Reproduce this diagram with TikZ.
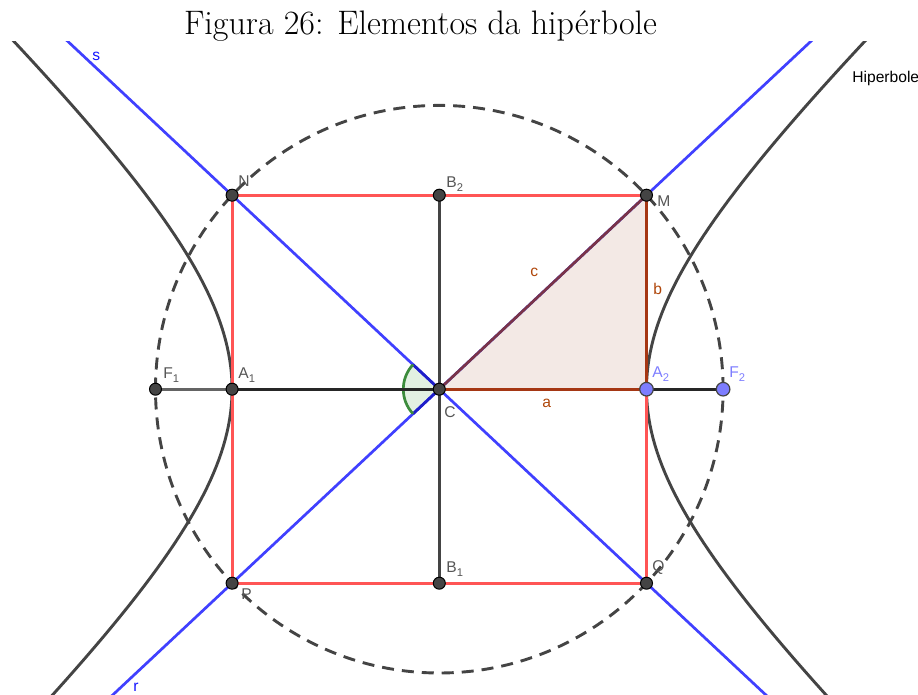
\documentclass[tikz,border=0pt]{standalone}
\usepackage{fontspec}
\newfontfamily\ggfont{Liberation Sans}
\usetikzlibrary{calc}
\definecolor{hypc}{RGB}{68,68,68}
\definecolor{asy}{RGB}{64,64,255}
\definecolor{asyd}{RGB}{30,30,200}
\definecolor{rectc}{RGB}{255,85,85}
\definecolor{trif}{RGB}{243,233,229}
\definecolor{csd}{RGB}{122,52,72}
\definecolor{abs}{RGB}{165,55,20}
\definecolor{abl}{RGB}{175,70,10}
\definecolor{angc}{RGB}{60,140,60}
\definecolor{angf}{RGB}{226,240,226}
\definecolor{ptd}{RGB}{68,68,68}
\definecolor{ptb}{RGB}{125,125,255}
\definecolor{lblg}{RGB}{85,85,85}
\definecolor{lblb}{RGB}{125,125,255}
\definecolor{lbls}{RGB}{20,20,255}
\definecolor{axg}{RGB}{100,100,100}
\tikzset{
 hyp/.style={hypc, line width=1.45pt},
 asym/.style={asy, line width=1.35pt},
 rectl/.style={rectc, line width=1.45pt},
 circd/.style={hypc, line width=1.45pt, dash pattern=on 6pt off 4pt},
 dotd/.style={circle, fill=ptd, draw=black, line width=0.5pt, minimum size=6pt, inner sep=0pt},
 dotb/.style={circle, fill=ptb, draw=hypc, line width=0.6pt, minimum size=6.8pt, inner sep=0pt},
 lbl/.style={anchor=base west, inner sep=0pt, font=\ggfont\fontsize{7.8}{8.5}\selectfont, text=lblg},
}
\newcommand{\sbs}[1]{\raisebox{-1.9pt}{\fontsize{5.6}{6}\selectfont #1}}
\begin{document}
\begin{tikzpicture}[x=0.5pt,y=-0.5pt]
\useasboundingbox (0,0) rectangle (918,695);
\node[anchor=base, inner sep=0pt, font=\fontsize{17}{20}\selectfont] (title) at (420.5,35) {Figura 26: Elementos da hipérbole};
% key points
\coordinate (C) at (439.3,389.2);
\coordinate (A1) at (232.1,389.2);
\coordinate (A2) at (646.5,389.2);
\coordinate (B2) at (439.3,195.2);
\coordinate (B1) at (439.3,583.2);
\coordinate (N) at (232.1,195.2);
\coordinate (M) at (646.5,195.2);
\coordinate (P) at (232.1,583.2);
\coordinate (Q) at (646.5,583.2);
\coordinate (F1) at (155.5,389.2);
\coordinate (F2) at (723.1,389.2);
\coordinate (s1) at ($(C)!3!(N)$);
\coordinate (s2) at ($(C)!3!(Q)$);
\coordinate (r1) at ($(C)!3!(P)$);
\coordinate (r2) at ($(C)!3!(M)$);
\begin{scope}
\clip (0,42) rectangle (918,695);
% triangle fill
\fill[trif] (C) -- (A2) -- (M) -- cycle;
% angle sector
\fill[angf] (C) -- +(136.88:18pt) arc[start angle=136.88, end angle=223.12, radius=18pt] -- cycle;
% circle
\draw[circd] (C) circle[radius=141.9pt];
% hyperbola
\draw[hyp] plot[domain=-1.5:1.5, samples=90, variable=\t] ({439.3+207.2*cosh(\t)}, {389.2+194*sinh(\t)});
\draw[hyp] plot[domain=-1.5:1.5, samples=90, variable=\t] ({439.3-207.2*cosh(\t)}, {389.2+194*sinh(\t)});
% rectangle
\draw[rectl] (N) -- (M) -- (Q) -- (P) -- cycle;
% asymptotes
\draw[asym] (s1) -- (s2);
\draw[asym] (r1) -- (r2);
\draw[asyd, line width=1.35pt] ($(C)!18pt!(N)$) -- (C) -- ($(C)!18pt!(P)$);
\draw[angc, line width=1.35pt] ($(C)+(136.88:18pt)$) arc[start angle=136.88, end angle=223.12, radius=18pt];
% axes
\draw[hypc, line width=1.45pt] (B1) -- (B2);
\draw[axg, line width=1.35pt] (F1) -- (A1);
\draw[black!85, line width=1.35pt] (A1) -- (C);
\draw[black!85, line width=1.35pt] (A2) -- (F2);
% triangle sides
\draw[abs, line width=1.35pt] (C) -- (A2);
\draw[abs, line width=1.35pt] (A2) -- (M);
\draw[csd, line width=1.35pt] (C) -- (M);
% points
\node[dotd] (pN) at (N) {};
\node[dotd] (pM) at (M) {};
\node[dotd] (pP) at (P) {};
\node[dotd] (pQ) at (Q) {};
\node[dotd] (pB1) at (B1) {};
\node[dotd] (pB2) at (B2) {};
\node[dotd] (pA1) at (A1) {};
\node[dotd] (pF1) at (F1) {};
\node[dotd] (pC) at (C) {};
\node[dotb] (pA2) at (A2) {};
\node[dotb] (pF2) at (F2) {};
% labels
\node[lbl, text=lbls] (ls) at (92,61) {s};
\node[lbl, text=lbls] (lr) at (133,692) {r};
\node[lbl] (lN) at (238,187) {N};
\node[lbl] (lB2) at (446,188) {B\sbs{2}};
\node[lbl] (lM) at (657,207) {M};
\node[lbl, text=black] (lH) at (852,83) {Hiperbole};
\node[lbl, text=abl] (lc) at (530,277) {c};
\node[lbl, text=abl] (lb) at (653,295) {b};
\node[lbl, text=abl] (la) at (542,408) {a};
\node[lbl] (lF1) at (163,379) {F\sbs{1}};
\node[lbl] (lA1) at (238,379) {A\sbs{1}};
\node[lbl] (lC) at (444,418) {C};
\node[lbl, text=lblb] (lA2) at (652,378) {A\sbs{2}};
\node[lbl, text=lblb] (lF2) at (729,378) {F\sbs{2}};
\node[lbl] (lB1) at (446,573) {B\sbs{1}};
\node[lbl] (lP) at (241,600) {P};
\node[lbl] (lQ) at (652,572) {Q};
\end{scope}
\end{tikzpicture}
\end{document}
